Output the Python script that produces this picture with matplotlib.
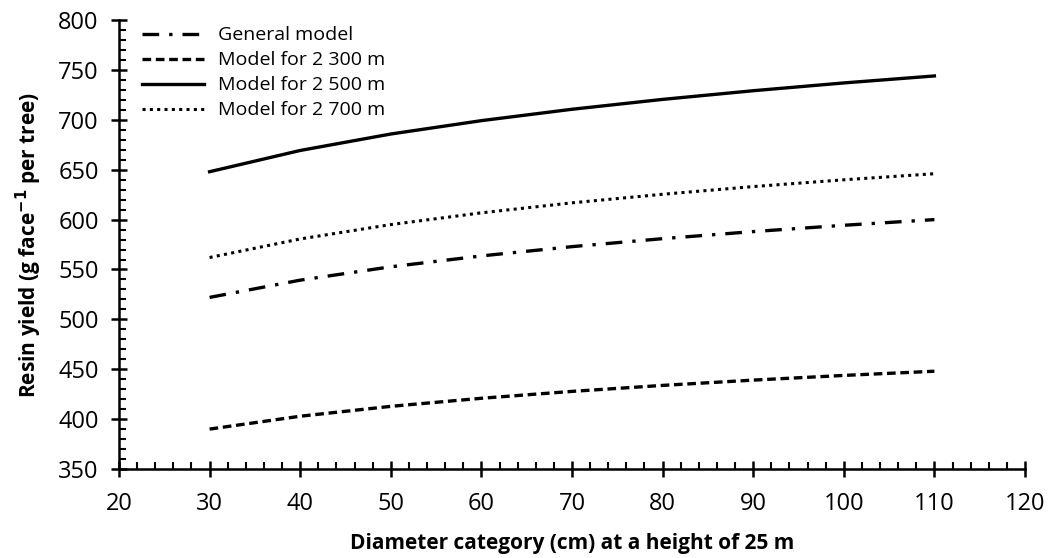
import matplotlib
matplotlib.use("Agg")
import matplotlib.pyplot as plt
from matplotlib.ticker import MultipleLocator

plt.rcParams['font.family'] = ['Open Sans', 'DejaVu Sans']

diameter = [30, 40, 50, 60, 70, 80, 90, 100, 110]
general = [522, 539.3, 552.7, 563.6, 572.9, 580.9, 588.0, 594.3, 600]
m2300 = [390, 402.9, 412.8, 420.9, 427.8, 433.8, 439.1, 443.8, 448]
m2500 = [648, 669.3, 685.8, 699.2, 710.6, 720.5, 729.2, 737.0, 744]
m2700 = [562, 580.6, 595.0, 606.8, 616.8, 625.4, 633.1, 639.9, 646]
labels = ["General model", "Model for 2 300 m", "Model for 2 500 m", "Model for 2 700 m"]

fig = plt.figure(figsize=(10.53, 5.58), dpi=100)
ax = fig.add_axes([0.113, 0.1595, 0.8604, 0.8045])

ax.plot(diameter, general, color='black', lw=2.4, linestyle=(0, (5, 3, 1, 3)), label=labels[0])
ax.plot(diameter, m2300, color='black', lw=2.4, linestyle=(0, (2.6, 1.4)), label=labels[1])
ax.plot(diameter, m2500, color='black', lw=2.4, linestyle='-', label=labels[2])
ax.plot(diameter, m2700, color='black', lw=2.2, linestyle=(0, (1, 1.4)), label=labels[3])

ax.set_xlim(20, 120)
ax.set_ylim(350, 800)
ax.xaxis.set_major_locator(MultipleLocator(10))
ax.xaxis.set_minor_locator(MultipleLocator(2))
ax.yaxis.set_major_locator(MultipleLocator(50))
ax.yaxis.set_minor_locator(MultipleLocator(10))

for s in ['top', 'right']:
    ax.spines[s].set_visible(False)
for s in ['left', 'bottom']:
    ax.spines[s].set_linewidth(1.8)

ax.tick_params(which='major', direction='inout', length=11, width=1.8, labelsize=17)
ax.tick_params(axis='x', which='major', pad=11)
ax.tick_params(axis='y', which='major', pad=9)
ax.tick_params(which='minor', direction='in', length=5, width=1.5)

ax.set_xlabel("Diameter category (cm) at a height of 25 m", fontsize=15, fontweight='bold', labelpad=12)
ax.set_ylabel("Resin yield (g face$^{\\mathbf{-1}}$ per tree)", fontsize=15, fontweight='bold', labelpad=10)

leg = ax.legend(loc='upper left', bbox_to_anchor=(0.012, 1.012), frameon=False, fontsize=14,
                handlelength=3.2, handletextpad=0.75, labelspacing=0.36, borderaxespad=0.2)

fig.savefig("out.png", dpi=100)
